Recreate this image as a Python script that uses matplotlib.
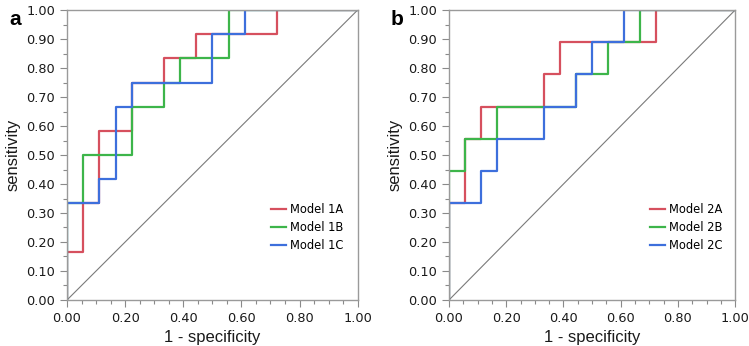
import matplotlib.pyplot as plt
from matplotlib.ticker import MultipleLocator, FixedLocator

# ROC step curves, (1 - specificity, sensitivity) vertices
fpr_1a = [0, 0, 0.056, 0.056, 0.111, 0.111, 0.222, 0.222, 0.333, 0.333, 0.444, 0.444, 0.722, 0.722, 1.0]
tpr_1a = [0, 0.167, 0.167, 0.333, 0.333, 0.583, 0.583, 0.75, 0.75, 0.833, 0.833, 0.917, 0.917, 1.0, 1.0]
fpr_1b = [0, 0, 0.056, 0.056, 0.222, 0.222, 0.333, 0.333, 0.389, 0.389, 0.556, 0.556, 1.0]
tpr_1b = [0, 0.333, 0.333, 0.5, 0.5, 0.667, 0.667, 0.75, 0.75, 0.833, 0.833, 1.0, 1.0]
fpr_1c = [0, 0, 0.111, 0.111, 0.167, 0.167, 0.222, 0.222, 0.5, 0.5, 0.611, 0.611, 1.0]
tpr_1c = [0, 0.333, 0.333, 0.417, 0.417, 0.667, 0.667, 0.75, 0.75, 0.917, 0.917, 1.0, 1.0]

fpr_2a = [0, 0, 0.056, 0.056, 0.111, 0.111, 0.333, 0.333, 0.389, 0.389, 0.722, 0.722, 1.0]
tpr_2a = [0, 0.333, 0.333, 0.556, 0.556, 0.667, 0.667, 0.778, 0.778, 0.889, 0.889, 1.0, 1.0]
fpr_2b = [0, 0, 0.056, 0.056, 0.167, 0.167, 0.444, 0.444, 0.556, 0.556, 0.667, 0.667, 1.0]
tpr_2b = [0, 0.444, 0.444, 0.556, 0.556, 0.667, 0.667, 0.778, 0.778, 0.889, 0.889, 1.0, 1.0]
fpr_2c = [0, 0, 0.111, 0.111, 0.167, 0.167, 0.333, 0.333, 0.444, 0.444, 0.5, 0.5, 0.611, 0.611, 1.0]
tpr_2c = [0, 0.333, 0.333, 0.444, 0.444, 0.556, 0.556, 0.667, 0.667, 0.778, 0.778, 0.889, 0.889, 1.0, 1.0]

labels_1 = ["Model 1A", "Model 1B", "Model 1C"]
labels_2 = ["Model 2A", "Model 2B", "Model 2C"]
colors = ["#d6505e", "#3db54a", "#3d6fdc"]

fig = plt.figure(figsize=(7.49, 3.46), dpi=100)
ax_a = fig.add_axes([0.0895, 0.133, 0.388, 0.838])
ax_b = fig.add_axes([0.5995, 0.133, 0.382, 0.838])

panels = [
    (ax_a, "a", -0.179, [(fpr_1a, tpr_1a), (fpr_1b, tpr_1b), (fpr_1c, tpr_1c)], labels_1),
    (ax_b, "b", -0.182, [(fpr_2a, tpr_2a), (fpr_2b, tpr_2b), (fpr_2c, tpr_2c)], labels_2),
]

for ax, letter, lx, curves, labels in panels:
    ax.plot([0, 1], [0, 1], color="#7a7a7a", lw=0.8)
    for (x, y), lab, c in zip(curves, labels, colors):
        ax.plot(x, y, color=c, lw=1.6, label=lab)
    ax.set_xlim(0, 1)
    ax.set_ylim(0, 1)
    ax.xaxis.set_major_locator(FixedLocator([0, 0.2, 0.4, 0.6, 0.8, 1.0]))
    ax.xaxis.set_minor_locator(MultipleLocator(0.05))
    ax.yaxis.set_major_locator(MultipleLocator(0.1))
    ax.yaxis.set_minor_locator(MultipleLocator(0.05))
    ax.xaxis.set_major_formatter(lambda v, p: f"{v:.2f}")
    ax.yaxis.set_major_formatter(lambda v, p: f"{v:.2f}")
    ax.tick_params(which="major", length=5, width=0.8, color="#8a8a8a",
                   labelsize=9.3, labelcolor="#1a1a1a")
    ax.tick_params(which="minor", length=3, width=0.8, color="#8a8a8a")
    for s in ax.spines.values():
        s.set_color("#9a9a9a")
        s.set_linewidth(1.0)
    ax.set_xlabel("1 - specificity", fontsize=12, family="Liberation Sans", color="#1a1a1a")
    ax.set_ylabel("sensitivity", fontsize=12, family="Liberation Sans", color="#1a1a1a")
    ax.legend(loc="upper left", bbox_to_anchor=(0.665, 0.37), frameon=False,
              fontsize=8.3, handlelength=1.3, handletextpad=0.4, labelspacing=0.42)
    ax.text(lx, 0.966, letter, transform=ax.transAxes, fontsize=15, fontweight="bold",
            ha="center", va="center", family="Liberation Sans")

fig.savefig("out.png", dpi=100)
